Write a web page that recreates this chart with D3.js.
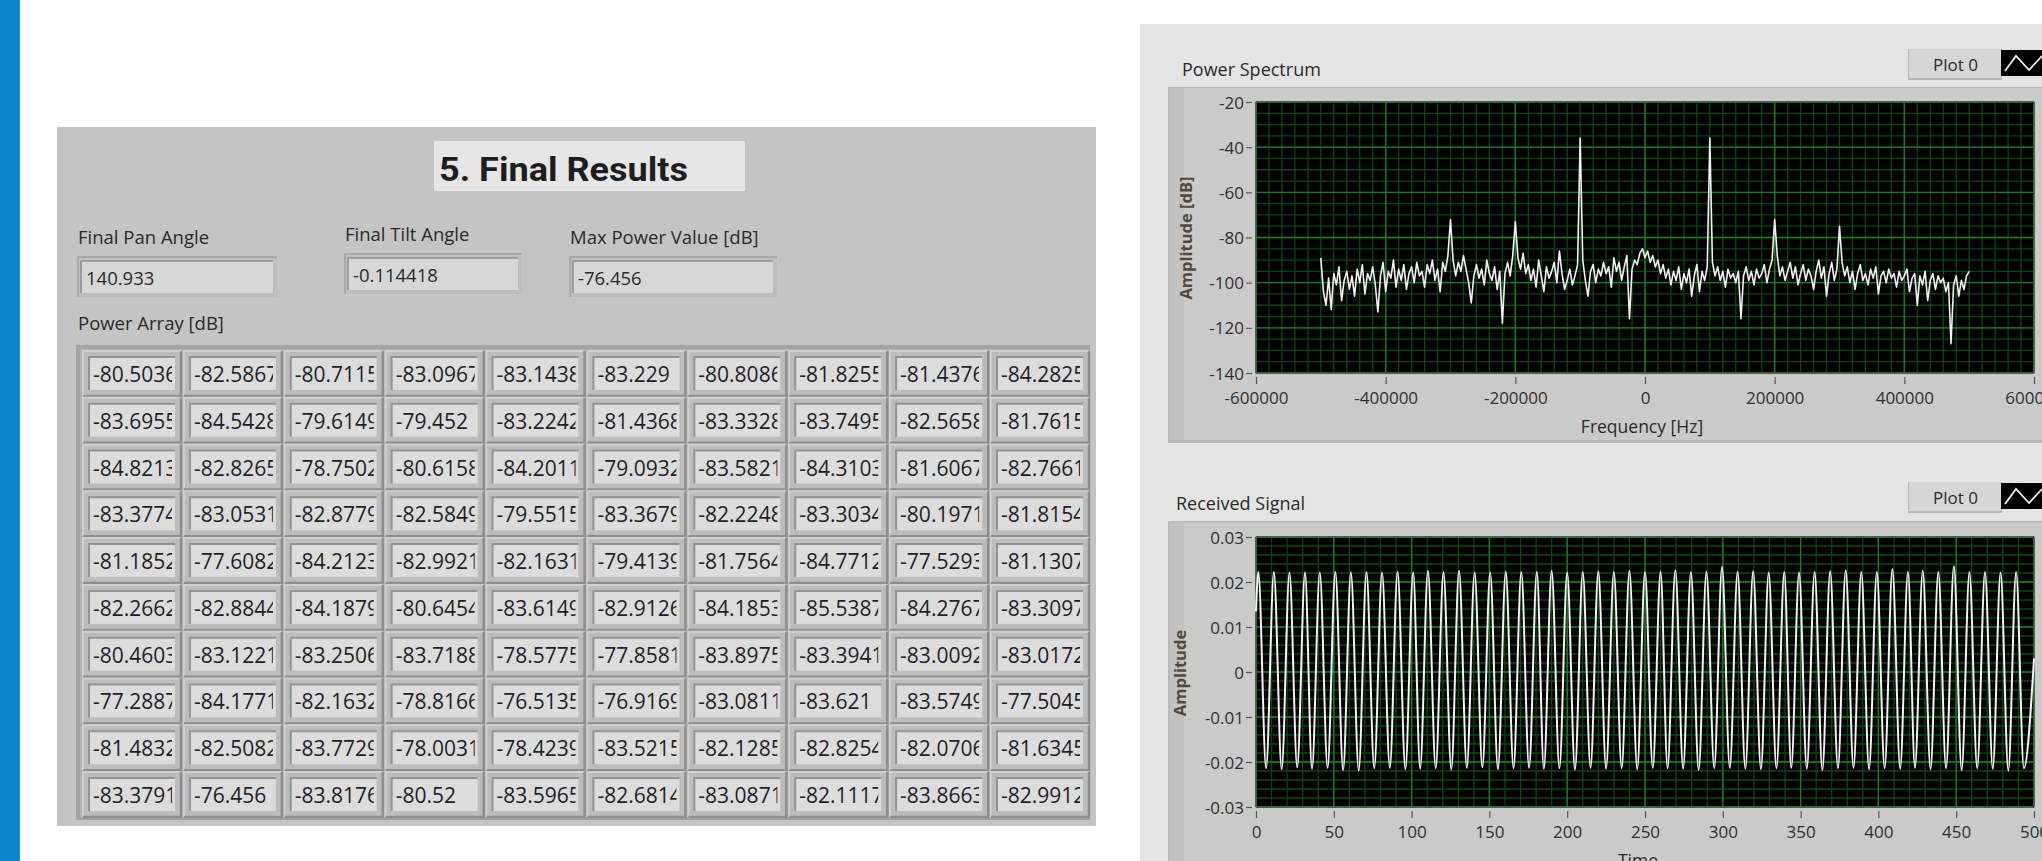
<!DOCTYPE html>
<html>
<head>
<meta charset="utf-8">
<script src="https://cdn.jsdelivr.net/npm/d3@7"></script>
<style>
  body { margin: 0; background: #ffffff; }
  svg text { font-family: "Open Sans", "Noto Sans", "DejaVu Sans", sans-serif; }
</style>
</head>
<body>
<svg id="front" width="2042" height="861"></svg>
<script>
// ---- Final results ----
const panAngle = "140.933";
const tiltAngle = "-0.114418";
const maxPowerDb = "-76.456";

// Power array [dB], 10 x 10 scan grid
const powerRows = [
  [-80.5036, -82.5867, -80.7115, -83.0967, -83.1438, -83.229, -80.8086, -81.8255, -81.4376, -84.2825],
  [-83.6955, -84.5428, -79.6149, -79.452, -83.2242, -81.4368, -83.3328, -83.7495, -82.5658, -81.7615],
  [-84.8213, -82.8265, -78.7502, -80.6158, -84.2011, -79.0932, -83.5821, -84.3103, -81.6067, -82.7661],
  [-83.3774, -83.0531, -82.8779, -82.5849, -79.5515, -83.3679, -82.2248, -83.3034, -80.1971, -81.8154],
  [-81.1852, -77.6082, -84.2123, -82.9921, -82.1631, -79.4139, -81.7564, -84.7712, -77.5293, -81.1307],
  [-82.2662, -82.8844, -84.1879, -80.6454, -83.6149, -82.9126, -84.1853, -85.5387, -84.2767, -83.3097],
  [-80.4603, -83.1221, -83.2506, -83.7188, -78.5775, -77.8581, -83.8975, -83.3941, -83.0092, -83.0172],
  [-77.2887, -84.1771, -82.1632, -78.8166, -76.5135, -76.9169, -83.0811, -83.621, -83.5749, -77.5045],
  [-81.4832, -82.5082, -83.7729, -78.0031, -78.4239, -83.5215, -82.1285, -82.8254, -82.0706, -81.6345],
  [-83.3791, -76.456, -83.8176, -80.52, -83.5965, -82.6814, -83.0871, -82.1117, -83.8663, -82.9912]
];

// ---- Power spectrum: bins from -500 kHz to +500 kHz, 4 kHz apart ----
const spectrumStartHz = -500000;
const spectrumStepHz = 4000;
const spectrumDb = [
  -89, -104, -110, -98, -112, -96, -101, -93, -108, -99,
  -95, -103, -97, -106, -94, -100, -92, -105, -96, -99,
  -93, -101, -113, -97, -91, -104, -95, -98, -90, -102,
  -94, -99, -92, -103, -96, -93, -100, -91, -97, -95,
  -102, -92, -96, -90, -99, -94, -104, -91, -95, -88,
  -72, -90, -97, -91, -95, -88, -94, -100, -109, -97,
  -92, -98, -94, -101, -90, -96, -99, -93, -103, -95,
  -118, -96, -91, -97, -88, -73, -89, -94, -87, -96,
  -92, -99, -94, -102, -90, -97, -104, -93, -98, -95,
  -91, -100, -86, -96, -103, -99, -94, -101, -97, -92,
  -36, -90, -99, -106, -95, -92, -100, -94, -97, -91,
  -96, -93, -102, -89, -95, -91, -99, -93, -88, -116,
  -94, -90, -92, -87, -85, -89, -86, -91, -88, -93,
  -90, -96, -92, -98, -94, -101, -95, -99, -93, -103,
  -96, -100, -94, -106, -97, -92, -104, -95, -99, -93,
  -36, -91, -97, -93, -99, -95, -102, -94, -98, -96,
  -100, -95, -116, -97, -93, -99, -95, -101, -94, -98,
  -96, -92, -100, -94, -90, -72, -88, -97, -93, -99,
  -95, -91, -98, -93, -101, -96, -92, -99, -94, -97,
  -103, -95, -90, -98, -93, -106, -96, -91, -99, -94,
  -75, -91, -97, -93, -100, -95, -103, -96, -92, -99,
  -96, -101, -94, -98, -93, -105, -97, -95, -100, -94,
  -98, -96, -102, -95, -99, -97, -94, -104, -98, -96,
  -110, -97, -101, -95, -108, -99, -96, -103, -97, -100,
  -98, -104, -100, -127, -101, -97, -106, -99, -103, -97,
  -95
];

// ---- Received signal: start, crest/trough samples, end ----
const signalStart = [0, 0.0135];
const signalEnd = [500, 0.003];
const crestTime = [1.5, 11.5, 21.5, 31.5, 41, 51, 61, 71, 81, 91,
  101, 110.5, 120.5, 130.5, 140.5, 150.5, 160.5, 170.5, 180.5, 190,
  200, 210, 220, 230, 240, 250, 260, 269.5, 279.5, 289.5,
  299.5, 309.5, 319.5, 329.5, 339.5, 349, 359, 369, 379, 389,
  399, 409, 419, 428.5, 438.5, 448.5, 458.5, 468.5, 478.5, 488.5];
const crestValue = [0.0222, 0.0222, 0.0221, 0.0221, 0.0221, 0.0222, 0.0221, 0.0222, 0.0221, 0.0223,
  0.0221, 0.0225, 0.0222, 0.0225, 0.0221, 0.0221, 0.0223, 0.0222, 0.0223, 0.0225,
  0.0221, 0.0222, 0.0224, 0.0222, 0.0225, 0.0222, 0.0223, 0.0226, 0.0222, 0.0223,
  0.0234, 0.0223, 0.0224, 0.0221, 0.0222, 0.0221, 0.0222, 0.0224, 0.0226, 0.0222,
  0.0222, 0.0229, 0.0222, 0.0225, 0.0222, 0.0235, 0.0222, 0.0222, 0.0221, 0.0222];
const troughTime = [6.5, 16.5, 26.5, 36, 46, 56, 66, 76, 86, 96,
  105.5, 115.5, 125.5, 135.5, 145.5, 155.5, 165.5, 175.5, 185, 195,
  205, 215, 225, 235, 245, 255, 264.5, 274.5, 284.5, 294.5,
  304.5, 314.5, 324.5, 334.5, 344, 354, 364, 374, 384, 394,
  404, 414, 423.5, 433.5, 443.5, 453.5, 463.5, 473.5, 483.5, 493.5];
const troughValue = [-0.0214, -0.0216, -0.0212, -0.0215, -0.0213, -0.0218, -0.0219, -0.0214, -0.0213, -0.0216,
  -0.0215, -0.0214, -0.0217, -0.0213, -0.0212, -0.0216, -0.0214, -0.0213, -0.0215, -0.0214,
  -0.0217, -0.0213, -0.0215, -0.0214, -0.0216, -0.0213, -0.0214, -0.0215, -0.0218, -0.0214,
  -0.0213, -0.0215, -0.0216, -0.0214, -0.0213, -0.0215, -0.0218, -0.0214, -0.0213, -0.0216,
  -0.0214, -0.0215, -0.0213, -0.0216, -0.0214, -0.0218, -0.0214, -0.0215, -0.0219, -0.0214];

// ---- Axis tick labels ----
const freqTicks = [-600000, -400000, -200000, 0, 200000, 400000, 600000];
const dbTicks = [-20, -40, -60, -80, -100, -120, -140];
const timeTicks = [0, 50, 100, 150, 200, 250, 300, 350, 400, 450, 500];
const ampTicks = [0.03, 0.02, 0.01, 0, -0.01, -0.02, -0.03];

const svg = d3.select("#front");
const TXT = "#2a2a2a";

// accent bar on the left edge
svg.append("rect").attr("x", 0).attr("y", 0).attr("width", 20).attr("height", 861).attr("fill", "#0b87d0");

// ================= Final results panel =================
const left = svg.append("g");
left.append("rect").attr("x", 57).attr("y", 127).attr("width", 1039).attr("height", 699).attr("fill", "#c4c4c4");

// title plate
left.append("rect").attr("x", 434).attr("y", 141).attr("width", 311).attr("height", 50).attr("fill", "#e6e6e6");
left.append("text").attr("x", 439).attr("y", 181)
  .attr("font-size", 34).attr("font-weight", 700).attr("fill", "#1e1e1e")
  .attr("textLength", 249).attr("lengthAdjust", "spacingAndGlyphs")
  .style("font-family", "Roboto, 'Open Sans', sans-serif")
  .text("5. Final Results");

// numeric indicators
const indicators = [
  { label: "Final Pan Angle", value: panAngle, x: 77, y: 256, w: 200, ly: 244 },
  { label: "Final Tilt Angle", value: tiltAngle, x: 344, y: 253, w: 178, ly: 241 },
  { label: "Max Power Value [dB]", value: maxPowerDb, x: 569, y: 256, w: 208, ly: 244 }
];
indicators.forEach(d => {
  const g = left.append("g");
  g.append("text").attr("x", d.x + 1).attr("y", d.ly).attr("font-size", 18.5).attr("fill", TXT).text(d.label);
  g.append("rect").attr("x", d.x).attr("y", d.y).attr("width", d.w).attr("height", 41).attr("fill", "#a9a9a9");
  g.append("rect").attr("x", d.x + 2).attr("y", d.y + 2).attr("width", d.w - 2).attr("height", 39).attr("fill", "#bdbdbd");
  g.append("rect").attr("x", d.x + 4).attr("y", d.y + 5).attr("width", d.w - 8).attr("height", 32).attr("fill", "#d7d7d7");
  g.append("line").attr("x1", d.x + 4).attr("x2", d.x + d.w - 4).attr("y1", d.y + 5).attr("y2", d.y + 5).attr("stroke", "#8f8f8f").attr("stroke-width", 1.5);
  g.append("line").attr("x1", d.x + 4).attr("x2", d.x + 4).attr("y1", d.y + 5).attr("y2", d.y + 37).attr("stroke", "#8f8f8f").attr("stroke-width", 1.5);
  g.append("text").attr("x", d.x + 9).attr("y", d.y + 29).attr("font-size", 18.5).attr("fill", TXT).text(d.value);
});

left.append("text").attr("x", 78).attr("y", 330).attr("font-size", 18.5).attr("fill", TXT).text("Power Array [dB]");

// array frame
const arr = left.append("g");
arr.append("rect").attr("x", 76).attr("y", 345).attr("width", 1014).attr("height", 475).attr("fill", "#a4a4a4");
arr.append("rect").attr("x", 80).attr("y", 349).attr("width", 1008).attr("height", 469).attr("fill", "#b3b3b3");

const colX = d3.scaleLinear().domain([0, 9]).range([89, 997]);
const rowY = d3.scaleLinear().domain([0, 9]).range([357, 778]);
const cellW = 86, cellH = 33;
const defs = svg.append("defs");

powerRows.forEach((row, r) => {
  row.forEach((v, c) => {
    const x = colX(c), y = rowY(r);
    const g = arr.append("g");
    // raised slot around the element
    g.append("rect").attr("x", x - 6).attr("y", y - 6).attr("width", cellW + 12).attr("height", cellH + 12).attr("fill", "#bcbcbc");
    g.append("path").attr("d", `M${x - 6},${y + cellH + 6}V${y - 6}H${x + cellW + 6}`).attr("fill", "none").attr("stroke", "#cfcfcf").attr("stroke-width", 2);
    g.append("path").attr("d", `M${x + cellW + 6},${y - 6}V${y + cellH + 6}H${x - 6}`).attr("fill", "none").attr("stroke", "#8e8e8e").attr("stroke-width", 2.5);
    // sunken display
    g.append("rect").attr("x", x).attr("y", y).attr("width", cellW).attr("height", cellH).attr("fill", "#dcdcdc");
    g.append("path").attr("d", `M${x},${y + cellH}V${y}H${x + cellW}`).attr("fill", "none").attr("stroke", "#939393").attr("stroke-width", 2);
    const id = `clip-${r}-${c}`;
    defs.append("clipPath").attr("id", id).append("rect").attr("x", x + 1).attr("y", y).attr("width", cellW - 4).attr("height", cellH);
    g.append("text").attr("clip-path", `url(#${id})`).attr("x", x + 4).attr("y", y + 25)
      .attr("font-size", 21).attr("fill", "#1f1f2a").text(String(v));
  });
});

// ================= Graph panel =================
svg.append("rect").attr("x", 1140).attr("y", 24).attr("width", 902).attr("height", 837).attr("fill", "#e4e4e4");

const MAJOR = "#1f7a22", MINOR = "#0d4612";

function legend(y) {
  const g = svg.append("g");
  g.append("rect").attr("x", 1908).attr("y", y).attr("width", 94).attr("height", 31).attr("fill", "#b8b8b8");
  g.append("rect").attr("x", 1909).attr("y", y).attr("width", 92).attr("height", 29).attr("fill", "#d6d6d6");
  g.append("text").attr("x", 1933).attr("y", y + 22).attr("font-size", 17).attr("fill", TXT).text("Plot 0");
  g.append("rect").attr("x", 2001).attr("y", y + 1).attr("width", 45).attr("height", 26).attr("fill", "#000");
  g.append("path").attr("d", `M2005,${y + 22}L2016,${y + 7}L2029,${y + 21}L2042,${y + 7}`)
    .attr("fill", "none").attr("stroke", "#f0f0f0").attr("stroke-width", 1.8);
}

function graphFrame(fy, fh) {
  svg.append("rect").attr("x", 1168).attr("y", fy).attr("width", 874).attr("height", fh).attr("fill", "#b9b9b9");
  svg.append("rect").attr("x", 1170).attr("y", fy + 1).attr("width", 872).attr("height", fh - 4).attr("fill", "#cacaca");
  svg.append("rect").attr("x", 1170).attr("y", fy + 1).attr("width", 14).attr("height", fh - 4).attr("fill", "#c2c2c2");
}

function plotArea(x, y, xMinor, yMinor, xMajor, yMajor) {
  const [x0, x1] = x.range(), [y0, y1] = y.range();
  const g = svg.append("g");
  g.append("rect").attr("x", x0).attr("y", y1).attr("width", x1 - x0).attr("height", y0 - y1).attr("fill", "#000");
  g.selectAll(".vmin").data(xMinor).join("line")
    .attr("x1", d => x(d)).attr("x2", d => x(d)).attr("y1", y1).attr("y2", y0).attr("stroke", MINOR).attr("stroke-width", 1.3);
  g.selectAll(".hmin").data(yMinor).join("line")
    .attr("y1", d => y(d)).attr("y2", d => y(d)).attr("x1", x0).attr("x2", x1).attr("stroke", MINOR).attr("stroke-width", 1.3);
  g.selectAll(".vmaj").data(xMajor).join("line")
    .attr("x1", d => x(d)).attr("x2", d => x(d)).attr("y1", y1).attr("y2", y0).attr("stroke", MAJOR).attr("stroke-width", 1.4);
  g.selectAll(".hmaj").data(yMajor).join("line")
    .attr("y1", d => y(d)).attr("y2", d => y(d)).attr("x1", x0).attr("x2", x1).attr("stroke", MAJOR).attr("stroke-width", 1.4);
  g.append("rect").attr("x", x0).attr("y", y1).attr("width", x1 - x0).attr("height", y0 - y1)
    .attr("fill", "none").attr("stroke", "#5a5a5a").attr("stroke-width", 1);
}

function axes(x, y, xTicks, yTicks, yFmt) {
  const [x0] = x.range(), [y0] = y.range();
  const ax = svg.append("g").attr("transform", `translate(0,${y0 + 4})`)
    .call(d3.axisBottom(x).tickValues(xTicks).tickSize(7).tickPadding(4).tickFormat(d => String(d)));
  const ay = svg.append("g").attr("transform", `translate(${x0 - 3},0)`)
    .call(d3.axisLeft(y).tickValues(yTicks).tickSize(7).tickPadding(2).tickFormat(yFmt));
  [ax, ay].forEach(a => {
    a.select(".domain").remove();
    a.selectAll(".tick line").attr("stroke", "#555").attr("stroke-width", 1.2);
    a.selectAll(".tick text").attr("fill", "#303030").attr("font-size", 17)
      .style("font-family", "'Open Sans', 'Noto Sans', sans-serif");
  });
  ay.selectAll(".tick line").attr("x1", -1).attr("x2", -7);
  ay.selectAll(".tick text").attr("dy", "0.36em");
  ax.selectAll(".tick text").attr("dy", "0.95em");
}

// ---------- Power Spectrum ----------
svg.append("text").attr("x", 1182).attr("y", 76).attr("font-size", 18).attr("fill", TXT).text("Power Spectrum");
legend(49);
graphFrame(87, 356);

const xF = d3.scaleLinear().domain([-600000, 600000]).range([1256, 2034]);
const yDb = d3.scaleLinear().domain([-140, -20]).range([373, 102]);
plotArea(xF, yDb,
  d3.range(-600000, 600001, 20000), d3.range(-140, -19, 5),
  freqTicks, dbTicks);
axes(xF, yDb, freqTicks, dbTicks, d => String(d));

const spectrum = spectrumDb.map((v, i) => [spectrumStartHz + i * spectrumStepHz, v]);
svg.append("path").datum(spectrum)
  .attr("d", d3.line().x(d => xF(d[0])).y(d => yDb(d[1])))
  .attr("fill", "none").attr("stroke", "#f2f2f2").attr("stroke-width", 1.6).attr("stroke-linejoin", "round");

svg.append("text").attr("x", 1642).attr("y", 433).attr("text-anchor", "middle").attr("font-size", 17.5).attr("fill", TXT).text("Frequency [Hz]");
svg.append("text").attr("transform", "translate(1192,238) rotate(-90)").attr("text-anchor", "middle")
  .attr("font-size", 16.5).attr("font-weight", 700).attr("fill", "#55493b").text("Amplitude [dB]");

// ---------- Received Signal ----------
svg.append("text").attr("x", 1176).attr("y", 510).attr("font-size", 18).attr("fill", TXT).text("Received Signal");
legend(482);
graphFrame(521, 345);

const xT = d3.scaleLinear().domain([0, 500]).range([1256, 2034]);
const yA = d3.scaleLinear().domain([-0.03, 0.03]).range([807, 537]);
plotArea(xT, yA,
  d3.range(0, 501, 10), d3.range(-30, 31, 2).map(v => v / 1000),
  timeTicks, ampTicks);
axes(xT, yA, timeTicks, ampTicks, d => d === 0 ? "0" : d.toFixed(2));

const signal = [signalStart]
  .concat(crestTime.map((t, i) => [t, crestValue[i]]))
  .concat(troughTime.map((t, i) => [t, troughValue[i]]))
  .concat([signalEnd])
  .sort((a, b) => a[0] - b[0]);
svg.append("path").datum(signal)
  .attr("d", d3.line().x(d => xT(d[0])).y(d => yA(d[1])).curve(d3.curveMonotoneX))
  .attr("fill", "none").attr("stroke", "#f4f4f4").attr("stroke-width", 2);

svg.append("text").attr("transform", "translate(1186,673) rotate(-90)").attr("text-anchor", "middle")
  .attr("font-size", 16.5).attr("font-weight", 700).attr("fill", "#55493b").text("Amplitude");
svg.append("text").attr("x", 1638).attr("y", 867).attr("text-anchor", "middle").attr("font-size", 17.5).attr("fill", TXT).text("Time");
</script>
</body>
</html>
